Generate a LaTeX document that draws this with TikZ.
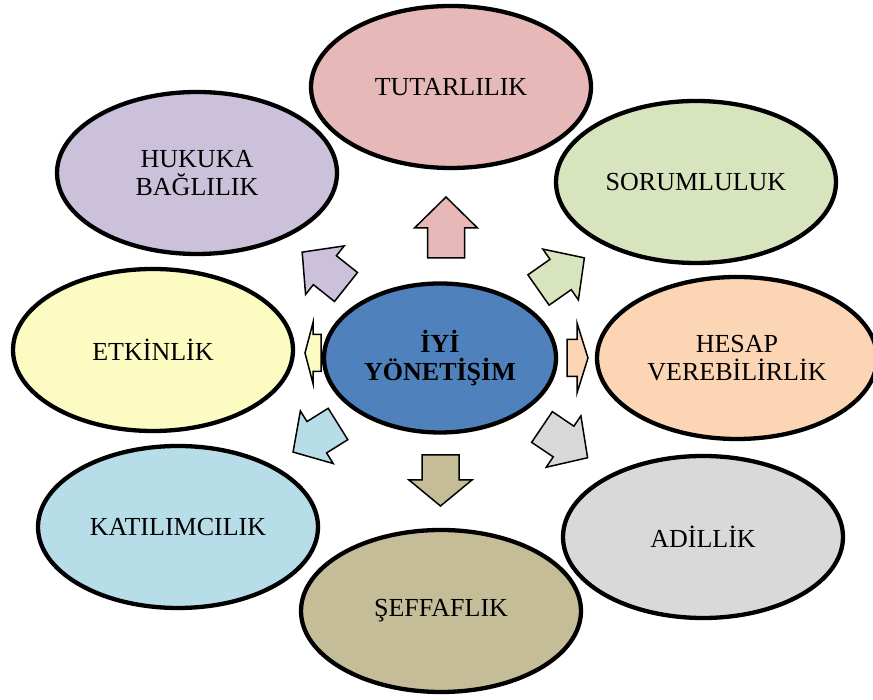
\documentclass[tikz,border=0pt]{standalone}
\usepackage{tikz}
\usepackage{fontspec}
\setmainfont{Liberation Serif}
\usetikzlibrary{shapes.geometric}
\usepackage{xcolor}

\definecolor{iyiblue}{HTML}{4F81BD}
\definecolor{tutpink}{HTML}{E6B9B8}
\definecolor{sorgreen}{HTML}{D7E4BD}
\definecolor{hespeach}{HTML}{FCD5B5}
\definecolor{adigray}{HTML}{D9D9D9}
\definecolor{sefkhaki}{HTML}{C4BD97}
\definecolor{katblue}{HTML}{B7DEE8}
\definecolor{etkyellow}{HTML}{FCFBC2}
\definecolor{huklilac}{HTML}{CCC1DA}

\begin{document}
\begin{tikzpicture}[x=1pt, y=1pt,
	oval/.style={ellipse, draw=black, line width=4.3pt, minimum width=280pt, minimum height=162pt, inner sep=0pt, align=center, font=\fontsize{26}{28.5}\selectfont},
	blockarrow/.style={draw=black, line width=1.5pt, line join=miter}]

\useasboundingbox (0,0) rectangle (873,700);

\def\shaft{18.5}

% block arrows: x/y of tail, angle, length, head length, head half width, colour
\foreach \x/\y/\ang/\len/\head/\hw/\col in {446/442/90/61/31/31.5/tutpink, 538.5/410/35/56/29/31/sorgreen, 567/342/0/21/11/35/hespeach, 542/273/-34/55/29/31/adigray, 440.5/245/-90/51/26/31.5/sefkhaki, 338/276/-148/53/28/31/katblue, 321/347/180/16/8/30.5/etkyellow, 346/413/141.5/56/29/31/huklilac} {
	\pgfmathsetmacro\base{\len-\head}
	\draw[blockarrow, fill=\col, shift={(\x,\y)}, rotate=\ang] (0,\shaft) -- (\base,\shaft) -- (\base,\hw) -- (\len,0) -- (\base,-\hw) -- (\base,-\shaft) -- (0,-\shaft) -- cycle;
}

\node[oval, fill=iyiblue, minimum width=232pt, minimum height=149pt, font=\fontsize{26}{28.5}\selectfont\bfseries] (iyi) at (440,342) {İYİ\\YÖNETİŞİM};

\node[oval, fill=tutpink] (tutarlilik) at (451,613) {TUTARLILIK};
\node[oval, fill=sorgreen] (sorumluluk) at (696,518) {SORUMLULUK};
\node[oval, fill=hespeach] (hesap) at (737,342) {HESAP\\VEREBİLİRLİK};
\node[oval, fill=adigray] (adillik) at (703,163) {ADİLLİK};
\node[oval, fill=sefkhaki] (seffaflik) at (441,89) {ŞEFFAFLIK};
\node[oval, fill=katblue] (katilimcilik) at (178,173) {KATILIMCILIK};
\node[oval, fill=etkyellow] (etkinlik) at (153,350) {ETKİNLİK};
\node[oval, fill=huklilac] (hukuka) at (197,527) {HUKUKA\\BAĞLILIK};

\end{tikzpicture}
\end{document}
